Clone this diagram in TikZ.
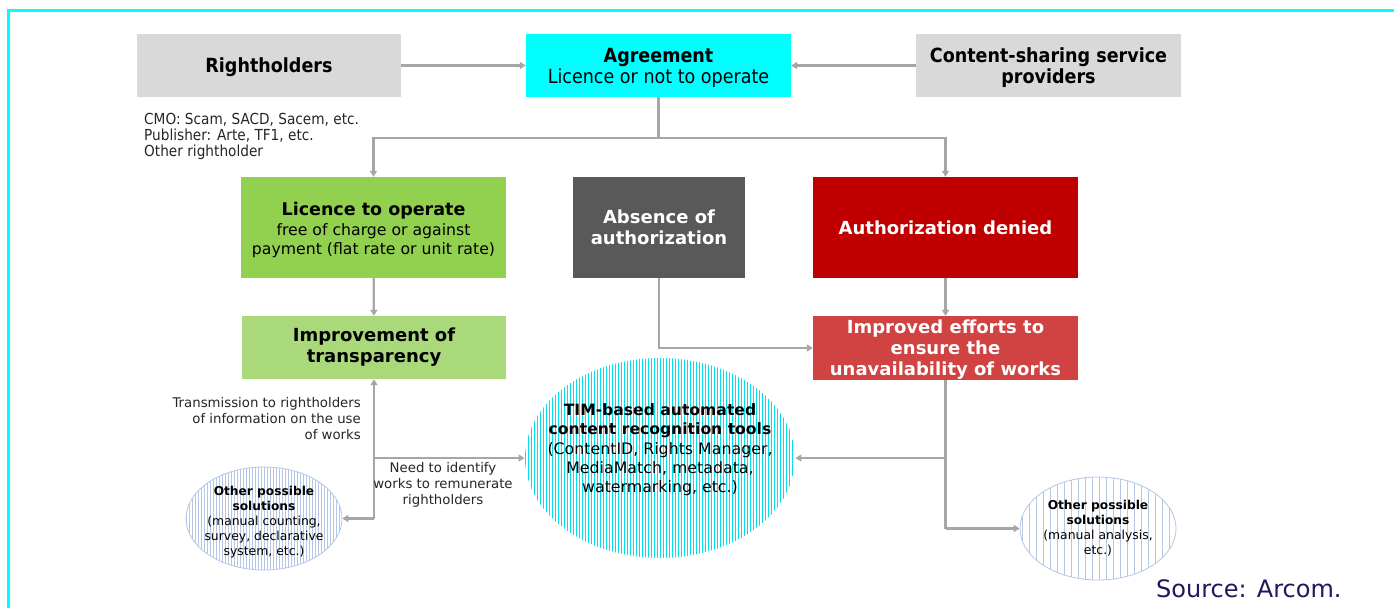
\documentclass[tikz,border=0pt]{standalone}
\usepackage{fontspec}
\setmainfont{DejaVu Sans}
\newfontfamily\condfont{DejaVu Sans Condensed}
\usetikzlibrary{arrows.meta,shapes.geometric,patterns.meta}

\definecolor{boxgray}{HTML}{D9D9D9}
\definecolor{agreecyan}{HTML}{00FFFF}
\definecolor{okgreen}{HTML}{92D050}
\definecolor{lightgreen}{HTML}{A9D97B}
\definecolor{darkbox}{HTML}{595959}
\definecolor{deniedred}{HTML}{C00000}
\definecolor{effortred}{HTML}{D14242}
\definecolor{linegray}{HTML}{A6A6A6}
\definecolor{stripecyan}{HTML}{00E1EC}
\definecolor{stripeblue}{HTML}{B4C7E7}
\definecolor{navy}{HTML}{1C1A5C}

\tikzset{
  block/.style={rectangle, inner sep=0pt, align=center, text=black},
  conn/.style={draw=linegray, line width=2.2pt, -{Triangle[width=7pt,length=6pt]}},
  wire/.style={draw=linegray, line width=2.2pt},
  note/.style={font=\fontsize{13.3}{16}\selectfont, text=black!85, inner sep=0pt},
  bigtxt/.style={font=\fontsize{18}{21}\selectfont\bfseries},
  toptxt/.style={font=\condfont\fontsize{19.5}{21}\selectfont},
  topbold/.style={font=\condfont\fontsize{19.5}{21}\selectfont\bfseries},
}

\begin{document}
\begin{tikzpicture}[x=1pt, y=-1pt]
\useasboundingbox (0,0) rectangle (1394,608);
\fill[white] (0,0) rectangle (1394,608);
% frame
\draw[agreecyan, line width=3pt] (8,608) -- (8,10) -- (1394,10);

% top row
\node[block, fill=boxgray, minimum width=264pt, minimum height=63pt] (rights) at (269,65.5) {};
\node[block, topbold] (rightstxt) at (269,67.5) {Rightholders};
\node[block, fill=agreecyan, minimum width=265pt, minimum height=63pt] (agree) at (658.5,65.5) {};
\node[block, toptxt] (agreetxt) at (658.5,67.5) {\textbf{Agreement}\\Licence or not to operate};
\node[block, fill=boxgray, minimum width=265pt, minimum height=63pt] (csp) at (1048.5,65.5) {};
\node[block, topbold] (csptxt) at (1048.5,67.5) {Content-sharing service\\providers};
\node[anchor=north west, align=left, inner sep=0pt, text=black!85,
      font=\condfont\fontsize{15.2}{16}\selectfont] (cmo) at (144,113)
      {CMO: Scam, SACD, Sacem, etc.\\Publisher: Arte, TF1, etc.\\Other rightholder};

% second row
\node[block, fill=okgreen, minimum width=265pt, minimum height=101pt] (licence) at (373.5,227.5) {};
\node[block, font=\fontsize{15.7}{19.5}\selectfont] (licencetxt) at (373.5,230)
      {{\fontsize{17.5}{19.5}\selectfont\bfseries Licence to operate}\\free of charge or against\\payment (flat rate or unit rate)};
\node[block, fill=darkbox, minimum width=172pt, minimum height=101pt,
      bigtxt, text=white] (absence) at (659,227.5) {Absence of\\authorization};
\node[block, fill=deniedred, minimum width=265pt, minimum height=101pt,
      bigtxt, text=white] (denied) at (945.5,227.5) {Authorization denied};

% third row
\node[block, fill=lightgreen, minimum width=264pt, minimum height=63pt,
      bigtxt] (transp) at (374,347.5) {Improvement of\\transparency};
\node[block, fill=effortred, minimum width=265pt, minimum height=64pt] (efforts) at (945.5,348) {};
\node[block, bigtxt, text=white] (effortstxt) at (945.5,350)
      {Improved efforts to\\ensure the\\unavailability of works};

% ellipses
\node[ellipse, minimum width=270pt, minimum height=200pt, inner sep=0pt,
      pattern={Lines[angle=90,distance=3pt,line width=0.9pt]}, pattern color=stripecyan] (tim) at (660,458) {};
\node[block, font=\fontsize{15.8}{19.3}\selectfont] (timtxt) at (660,450)
      {{\fontsize{15.6}{19.3}\selectfont\bfseries TIM-based automated}\\
       {\fontsize{15.6}{19.3}\selectfont\bfseries content recognition tools}\\
       (ContentID, Rights Manager,\\MediaMatch, metadata,\\watermarking, etc.)};

\node[ellipse, minimum width=156pt, minimum height=103pt, inner sep=0pt, draw=stripeblue, line width=0.8pt,
      pattern={Lines[angle=90,distance=3pt,line width=0.8pt]}, pattern color=stripeblue] (lsol) at (264,518.5) {};
\node[block, font=\fontsize{12.4}{15}\selectfont] (lsoltxt) at (264,522)
      {{\bfseries\fontsize{12.2}{15}\selectfont Other possible}\\
       {\bfseries\fontsize{12.2}{15}\selectfont solutions}\\
       (manual counting,\\survey, declarative\\system, etc.)};

\node[ellipse, minimum width=156pt, minimum height=103pt, inner sep=0pt, draw=stripeblue, line width=0.8pt,
      pattern={Lines[angle=90,distance=7pt,line width=0.8pt]}, pattern color=stripeblue] (rsol) at (1098,528.5) {};
\node[block, font=\fontsize{12.4}{15}\selectfont] (rsoltxt) at (1098,528.5)
      {{\bfseries\fontsize{12.2}{15}\selectfont Other possible}\\
       {\bfseries\fontsize{12.2}{15}\selectfont solutions}\\
       (manual analysis,\\etc.)};

% connectors
\draw[conn] (rights) -- (agree);
\draw[conn] (csp) -- (agree);
\draw[conn] (agree.south) -- ++(0,41) -| (licence.north);
\draw[conn] (agree.south) -- ++(0,41) -| (denied.north);
\draw[conn] (licence) -- (transp);
\draw[conn] (denied) -- (efforts);
\draw[conn] (absence.south) |- (efforts.west);

\coordinate (ljoin) at (transp.south |- lsol.east);
\coordinate (rjoin) at (efforts.south |- rsol.west);
\draw[conn] (ljoin) -- (transp.south);
\draw[conn] (ljoin) -- (lsol.east);
\draw[conn] (transp.south |- tim.west) -- (tim.west);
\draw[wire] (efforts.south) -- (rjoin);
\draw[conn] (rjoin) -- (rsol.west);
\draw[conn] (efforts.south |- tim.east) -- (tim.east);

% labels
\node[note, anchor=north east, align=right] (sendlbl) at (361,397)
     {Transmission to rightholders\\of information on the use\\of works};
\node[note, anchor=north, align=center] (needlbl) at (443,462)
     {Need to identify\\works to remunerate\\rightholders};

\node[anchor=base west, inner sep=0pt, text=navy, font=\fontsize{24}{26}\selectfont] (src) at (1156,597) {Source: Arcom.};
\end{tikzpicture}
\end{document}
